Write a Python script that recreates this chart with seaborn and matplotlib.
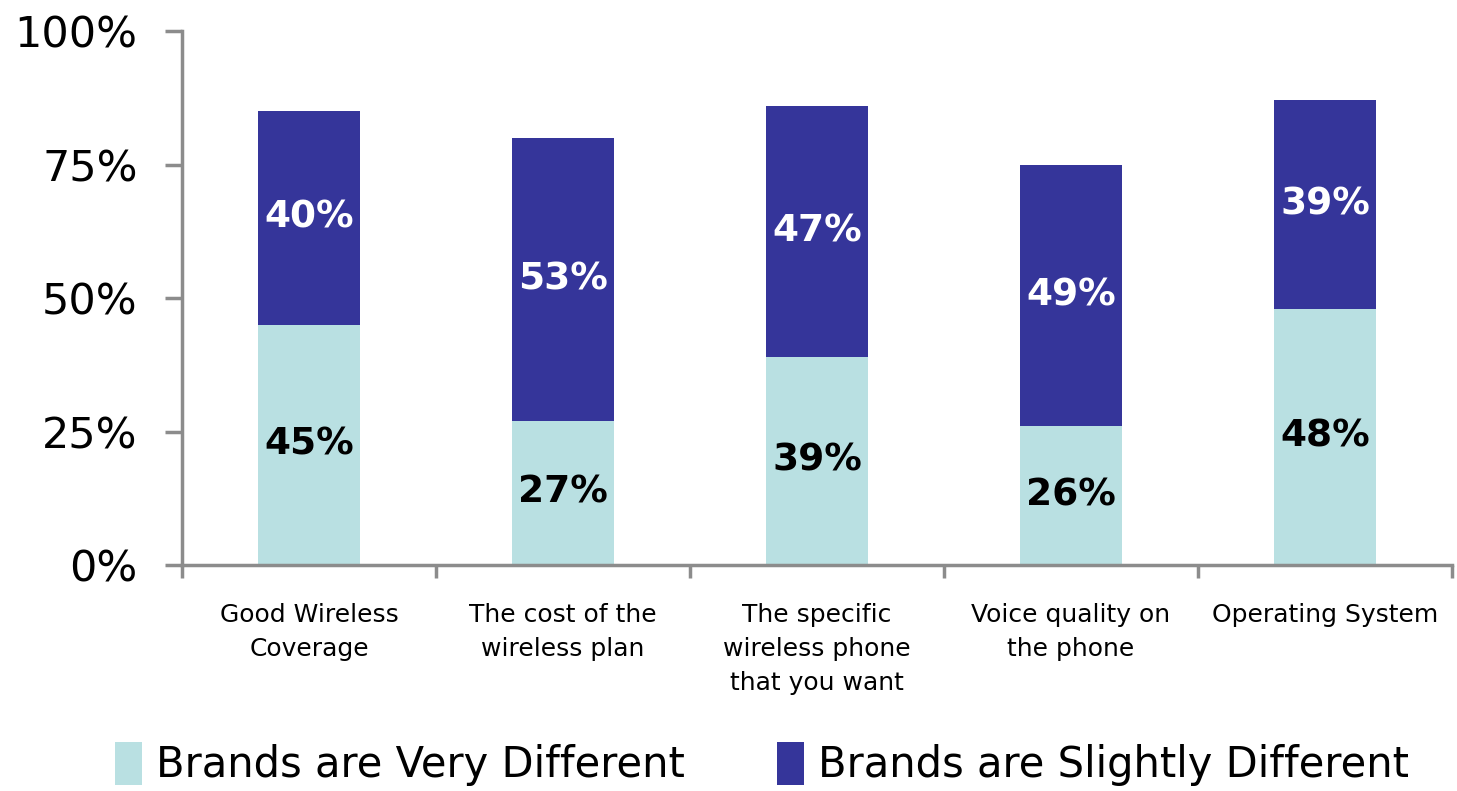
import matplotlib
matplotlib.use("Agg")
import matplotlib.pyplot as plt
from matplotlib.patches import Patch
import seaborn as sns
import pandas as pd

categories = [
    "Good Wireless\nCoverage",
    "The cost of the\nwireless plan",
    "The specific\nwireless phone\nthat you want",
    "Voice quality on\nthe phone",
    "Operating System",
]
very_different = [45, 27, 39, 26, 48]
slightly_different = [40, 53, 47, 49, 39]
series_names = ["Brands are Very Different", "Brands are Slightly Different"]
y_ticks = [0, 25, 50, 75, 100]

light_col = "#B9E0E2"
dark_col = "#35359A"
axis_col = "#8C8C8C"

sns.set_theme(style="white")
plt.rcParams["font.family"] = ["DejaVu Sans"]
plt.rcParams["text.color"] = "black"
plt.rcParams["xtick.labelcolor"] = "black"
plt.rcParams["ytick.labelcolor"] = "black"

df = pd.DataFrame({
    "category": categories,
    "very": very_different,
    "slightly": slightly_different,
})
df["total"] = df["very"] + df["slightly"]

fig = plt.figure(figsize=(14.57, 7.91), dpi=100)
ax = fig.add_axes([0.1249, 0.2857, 0.8717, 0.6751])

# stacked bars: full height in dark, lower segment overlaid in light
sns.barplot(data=df, x="category", y="total", color=dark_col, width=0.4,
            saturation=1, ax=ax, linewidth=0)
sns.barplot(data=df, x="category", y="very", color=light_col, width=0.4,
            saturation=1, ax=ax, linewidth=0)

for i, (v, s) in enumerate(zip(very_different, slightly_different)):
    ax.text(i, v / 2, f"{v}%", ha="center", va="center", fontsize=27,
            fontweight="bold", color="black")
    ax.text(i, v + s / 2, f"{s}%", ha="center", va="center", fontsize=27,
            fontweight="bold", color="white")

ax.set_xlim(-0.5, len(categories) - 0.5)
ax.set_ylim(0, 100)
ax.set_yticks(y_ticks)
ax.set_yticklabels([f"{t}%" for t in y_ticks], fontsize=31, color="black")
ax.tick_params(axis="y", which="major", direction="out", length=12,
               width=2.5, color=axis_col, pad=20, left=True)

ax.set_xticks(range(len(categories)))
ax.set_xticklabels(categories, fontsize=18, linespacing=1.55, va="top",
                   color="black")
ax.tick_params(axis="x", which="major", length=0, pad=27)
ax.set_xticks([i - 0.5 for i in range(len(categories) + 1)], minor=True)
ax.tick_params(axis="x", which="minor", direction="out", length=9,
               width=2.5, color=axis_col, bottom=True)

ax.set_xlabel("")
ax.set_ylabel("")
for side in ["top", "right"]:
    ax.spines[side].set_visible(False)
for side in ["left", "bottom"]:
    ax.spines[side].set_color(axis_col)
    ax.spines[side].set_linewidth(2.5)
ax.grid(False)

handles = [Patch(facecolor=light_col, edgecolor="none"),
           Patch(facecolor=dark_col, edgecolor="none")]
fig.legend(handles, series_names, loc="center", bbox_to_anchor=(0.523, 0.034),
           ncol=2, frameon=False, fontsize=30, handlelength=0.65,
           handleheight=1.2, handletextpad=0.35, columnspacing=2.2,
           labelcolor="black")

fig.savefig("out.png", dpi=100)
